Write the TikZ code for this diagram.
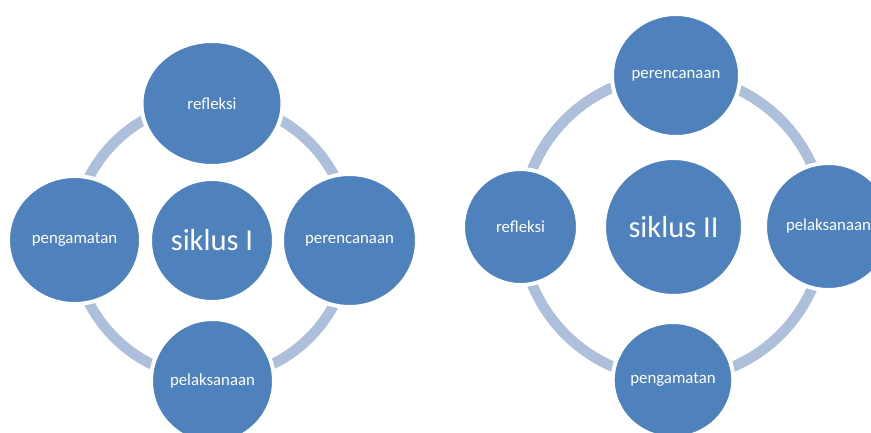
\documentclass[tikz,border=0pt]{standalone}
\usepackage{fontspec}
\setmainfont{Carlito}
\usetikzlibrary{shapes.geometric}
\definecolor{cblue}{HTML}{4F81BD}
\definecolor{cring}{HTML}{AEBFDC}
\tikzset{
  bub/.style={ellipse, fill=cblue, draw=white, line width=4pt, inner sep=0pt,
    text=white, font=\fontsize{16.8}{18}\selectfont},
  bigbub/.style={bub, font=\fontsize{30.5}{32}\selectfont},
  ringline/.style={draw=cring, line width=10.5pt}
}
\begin{document}
\begin{tikzpicture}[x=1pt,y=-1pt]
\useasboundingbox (0,0) rectangle (871,432);
\clip (0,0) rectangle (871,432);
% left cycle
\coordinate (c1) at (212,240);
\draw[ringline] (c1) circle[radius=138pt];
\node[bigbub, minimum width=124pt, minimum height=123pt] (sik1) at (212,240.5) {siklus I};
\node[bub, minimum width=141pt, minimum height=125pt] (ref1) at (212,103.5) {refleksi};
\node[bub, minimum width=133pt, minimum height=128pt] (pen1) at (74.5,240) {pengamatan};
\node[bub, minimum width=135pt, minimum height=133pt] (per1) at (349.5,240.5) {perencanaan};
\node[bub, minimum width=123pt, minimum height=124pt] (pel1) at (212.5,381) {pelaksanaan};
% right cycle
\coordinate (c2) at (673,227);
\draw[ringline] (c2) circle[radius=152pt];
\node[bigbub, minimum width=139pt, minimum height=138pt] (sik2) at (673.5,227) {siklus II};
\node[bub, minimum width=128pt, minimum height=123pt] (per2) at (676,75.5) {perencanaan};
\node[bub, minimum width=115pt, minimum height=116pt] (ref2) at (520.5,227) {refleksi};
\node[bub, minimum width=127pt, minimum height=127pt] (pel2) at (828.5,226.5) {pelaksanaan};
\node[bub, minimum width=116pt, minimum height=116pt] (pen2) at (673,380) {pengamatan};
\end{tikzpicture}
\end{document}
